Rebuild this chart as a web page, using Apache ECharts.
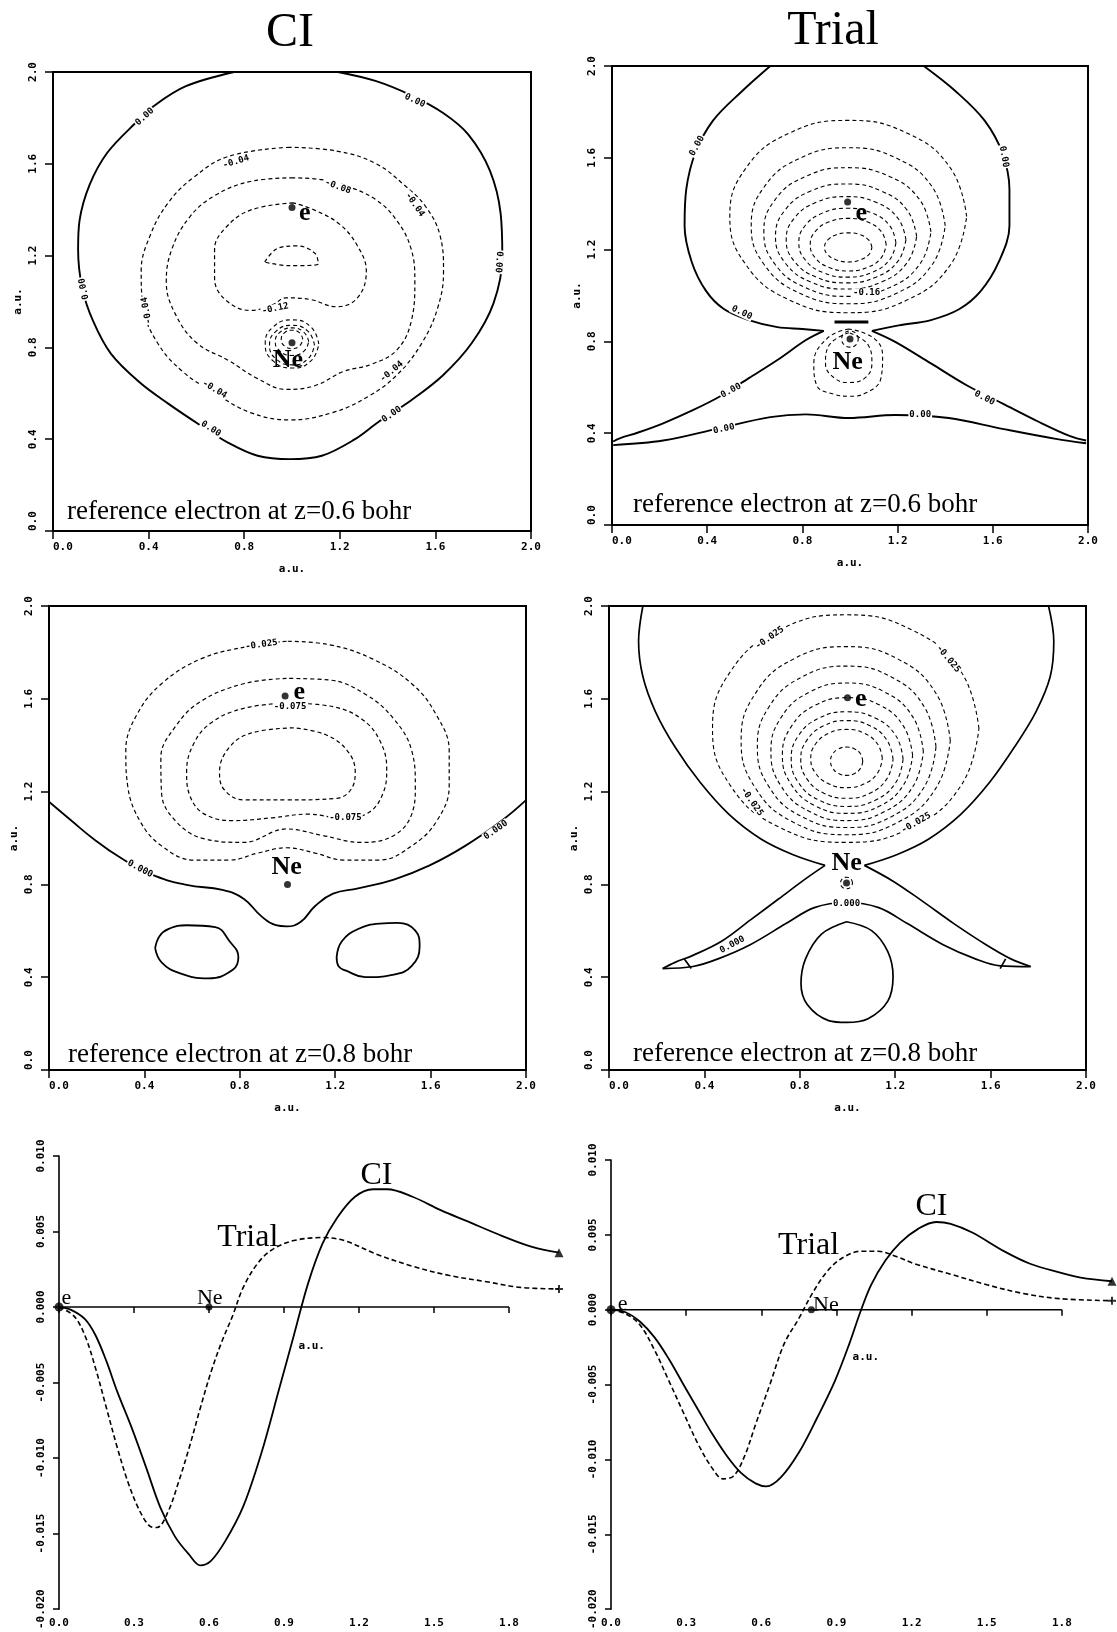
<!DOCTYPE html>
<html><head><meta charset="utf-8">
<script src="https://cdn.jsdelivr.net/npm/echarts@6/dist/echarts.min.js"></script>
<style>html,body{margin:0;padding:0;background:#fff}#c{width:1117px;height:1632px}</style>
</head><body><div id="c"></div>
<script>
// ---------- tick values ----------
const contourTicks = [0.0, 0.4, 0.8, 1.2, 1.6, 2.0];
const lineXTicks = [0.0, 0.3, 0.6, 0.9, 1.2, 1.5, 1.8];
const lineXMax = 2.0;
const lineYTicks = [-0.020, -0.015, -0.010, -0.005, 0.000, 0.005, 0.010];

// ---------- Panel 1 : CI, reference electron at z=0.6 ----------
const p1Zero = [[0.758,2.0],[0.556,1.938],[0.422,1.852],[0.347,1.78],[0.227,1.648],[0.153,1.508],[0.111,1.352],[0.105,1.227],[0.123,1.055],[0.168,0.914],[0.242,0.773],[0.362,0.648],[0.482,0.555],[0.616,0.461],[0.736,0.383],[0.856,0.328],[0.99,0.313],[1.125,0.328],[1.26,0.398],[1.364,0.477],[1.499,0.57],[1.633,0.68],[1.753,0.82],[1.843,0.992],[1.88,1.195],[1.873,1.383],[1.828,1.57],[1.738,1.727],[1.634,1.82],[1.499,1.898],[1.349,1.961],[1.192,2.0]];
const p1M04 = [[0.99,1.672],[0.736,1.633],[0.586,1.539],[0.482,1.43],[0.407,1.289],[0.369,1.133],[0.377,0.977],[0.437,0.82],[0.542,0.695],[0.676,0.602],[0.826,0.516],[0.99,0.484],[1.17,0.516],[1.319,0.586],[1.439,0.68],[1.544,0.82],[1.611,0.977],[1.634,1.133],[1.619,1.289],[1.559,1.414],[1.469,1.508],[1.349,1.602],[1.185,1.656],[0.99,1.672]];
const p1M08 = [[1.005,1.539],[0.826,1.523],[0.676,1.461],[0.571,1.367],[0.497,1.227],[0.474,1.086],[0.512,0.945],[0.601,0.82],[0.736,0.742],[0.856,0.664],[0.975,0.617],[1.095,0.633],[1.215,0.695],[1.334,0.727],[1.439,0.789],[1.499,0.914],[1.514,1.086],[1.499,1.227],[1.439,1.352],[1.349,1.445],[1.215,1.508],[1.125,1.531],[1.005,1.539]];
const p1M12 = [[1.005,1.43],[0.826,1.398],[0.721,1.32],[0.676,1.227],[0.676,1.102],[0.721,1.008],[0.826,0.961],[0.916,0.984],[0.975,1.016],[1.08,1.008],[1.185,0.977],[1.274,1.016],[1.311,1.133],[1.274,1.242],[1.2,1.336],[1.095,1.398],[1.005,1.43]];
const p1M16 = [[0.886,1.172],[0.945,1.234],[1.02,1.242],[1.095,1.211],[1.11,1.164],[0.99,1.156],[0.886,1.172]];
const p1NeA = [[1.112,0.815],[1.079,0.889],[1.0,0.92],[0.921,0.889],[0.888,0.815],[0.921,0.741],[1.0,0.71],[1.079,0.741],[1.112,0.815]];
const p1NeB = [[1.094,0.81],[1.066,0.871],[1.0,0.896],[0.934,0.871],[0.906,0.81],[0.934,0.749],[1.0,0.724],[1.066,0.749],[1.094,0.81]];
const p1NeC = [[1.07,0.825],[1.049,0.867],[1.0,0.885],[0.951,0.867],[0.93,0.825],[0.951,0.783],[1.0,0.765],[1.049,0.783],[1.07,0.825]];
const p1NeD = [[1.045,0.835],[1.032,0.863],[1.0,0.875],[0.968,0.863],[0.955,0.835],[0.968,0.807],[1.0,0.795],[1.032,0.807],[1.045,0.835]];
const p1Labels = [[0.384,1.805,'0.00',42],[1.514,1.875,'0.00',-25],[1.865,1.172,'0.00',-95],[0.13,1.055,'0.00',102],[0.661,0.445,'0.00',-32],[1.417,0.508,'0.00',34],[0.766,1.609,'-0.04',17],[1.514,1.422,'-0.04',-55],[0.392,0.961,'-0.04',100],[0.676,0.617,'-0.04',-31],[1.417,0.695,'-0.04',40],[1.192,1.5,'-0.08',-20],[0.93,0.969,'-0.12',12]];
const p1Dots = [[1.0,1.41],[1.0,0.82]];
const p1Tags = [[1.053,1.383,'e'],[0.983,0.742,'Ne']];

// ---------- Panel 2 : Trial, z=0.6 ----------
const p2ZeroLeft = [[0.665,2.0],[0.545,1.889],[0.425,1.763],[0.35,1.621],[0.312,1.462],[0.305,1.304],[0.335,1.146],[0.395,1.02],[0.47,0.941],[0.575,0.893],[0.695,0.862],[0.8,0.854],[0.89,0.846]];
const p2ArmLeft = [[0.89,0.846],[0.815,0.806],[0.695,0.719],[0.575,0.64],[0.455,0.561],[0.335,0.498],[0.215,0.443],[0.11,0.403],[0.035,0.379],[0.005,0.364]];
const p2ZeroRight = [[1.31,2.0],[1.445,1.889],[1.565,1.763],[1.64,1.621],[1.67,1.462],[1.67,1.304],[1.625,1.146],[1.55,1.02],[1.46,0.941],[1.34,0.893],[1.205,0.87],[1.092,0.846]];
const p2ArmRight = [[1.092,0.846],[1.19,0.798],[1.34,0.704],[1.49,0.609],[1.64,0.53],[1.79,0.451],[1.925,0.387],[1.992,0.368]];
const p2ZeroBottom = [[0.005,0.348],[0.215,0.368],[0.44,0.419],[0.665,0.47],[0.815,0.482],[0.995,0.466],[1.19,0.479],[1.415,0.466],[1.64,0.419],[1.865,0.375],[1.992,0.356]];
const p2Bar = [[0.935,0.885],[1.077,0.885]];
const p2R1 = [[1.490,1.344],[1.423,1.554],[1.241,1.707],[0.993,1.763],[0.744,1.707],[0.562,1.554],[0.495,1.344],[0.562,1.135],[0.744,0.981],[0.993,0.925],[1.241,0.981],[1.423,1.135],[1.490,1.344]];
const p2R2 = [[1.400,1.304],[1.345,1.474],[1.196,1.598],[0.993,1.644],[0.789,1.598],[0.640,1.474],[0.585,1.304],[0.640,1.134],[0.789,1.010],[0.993,0.964],[1.196,1.010],[1.345,1.134],[1.400,1.304]];
const p2R3 = [[1.340,1.277],[1.293,1.417],[1.165,1.519],[0.989,1.557],[0.814,1.519],[0.685,1.417],[0.638,1.277],[0.685,1.136],[0.814,1.034],[0.989,0.996],[1.165,1.034],[1.293,1.136],[1.340,1.277]];
const p2R4 = [[1.280,1.257],[1.240,1.372],[1.132,1.455],[0.984,1.486],[0.835,1.455],[0.727,1.372],[0.687,1.257],[0.727,1.143],[0.835,1.059],[0.984,1.028],[1.132,1.059],[1.240,1.143],[1.280,1.257]];
const p2R5 = [[1.235,1.243],[1.201,1.337],[1.109,1.406],[0.984,1.431],[0.858,1.406],[0.766,1.337],[0.732,1.243],[0.766,1.149],[0.858,1.080],[0.984,1.055],[1.109,1.080],[1.201,1.149],[1.235,1.243]];
const p2R6 = [[1.193,1.230],[1.166,1.305],[1.091,1.360],[0.989,1.380],[0.887,1.360],[0.812,1.305],[0.785,1.230],[0.812,1.155],[0.887,1.100],[0.989,1.080],[1.091,1.100],[1.166,1.155],[1.193,1.230]];
const p2R7 = [[1.152,1.222],[1.131,1.279],[1.072,1.321],[0.993,1.336],[0.913,1.321],[0.854,1.279],[0.833,1.222],[0.854,1.164],[0.913,1.122],[0.993,1.107],[1.072,1.122],[1.131,1.164],[1.152,1.222]];
const p2R8 = [[1.092,1.210],[1.079,1.241],[1.042,1.265],[0.993,1.273],[0.943,1.265],[0.906,1.241],[0.893,1.210],[0.906,1.178],[0.943,1.155],[0.993,1.146],[1.042,1.155],[1.079,1.178],[1.092,1.210]];
const p2NeOuter = [[0.995,0.854],[0.905,0.814],[0.848,0.704],[0.86,0.609],[0.935,0.569],[0.995,0.561],[1.07,0.577],[1.13,0.64],[1.137,0.735],[1.1,0.814],[0.995,0.854]];
const p2NeInner = [[0.995,0.838],[0.912,0.783],[0.897,0.704],[0.935,0.64],[0.995,0.621],[1.062,0.64],[1.092,0.704],[1.077,0.783],[0.995,0.838]];
const p2NeCore = [[1.035,0.81],[1.025,0.835],[1.0,0.845],[0.975,0.835],[0.965,0.81],[0.975,0.785],[1.0,0.775],[1.025,0.785],[1.035,0.81]];
const p2Labels = [[0.357,1.652,'0.00',61],[1.647,1.605,'0.00',-80],[0.545,0.925,'0.00',-25],[0.5,0.585,'0.00',28],[1.565,0.553,'0.00',-27],[0.47,0.419,'0.00',12],[1.295,0.482,'0.00',0],[1.07,1.012,'-0.16',0]];
const p2Dots = [[0.99,1.407],[1.0,0.81]];
const p2Tags = [[1.047,1.36,'e'],[0.99,0.711,'Ne']];

// ---------- Panel 3 : CI, z=0.8 ----------
const p3Zero = [[0,1.156],[0.097,1.072],[0.187,0.996],[0.292,0.92],[0.427,0.844],[0.577,0.798],[0.727,0.776],[0.816,0.738],[0.891,0.662],[0.951,0.624],[0.996,0.619],[1.056,0.639],[1.116,0.707],[1.191,0.76],[1.296,0.783],[1.446,0.821],[1.596,0.882],[1.745,0.966],[1.895,1.072],[2.0,1.163]];
const p3EllL = [[0.445,0.525],[0.464,0.578],[0.502,0.608],[0.577,0.624],[0.697,0.616],[0.757,0.555],[0.794,0.487],[0.772,0.433],[0.667,0.395],[0.547,0.418],[0.472,0.464],[0.445,0.525]];
const p3EllR = [[1.206,0.487],[1.228,0.555],[1.296,0.608],[1.386,0.631],[1.461,0.634],[1.536,0.601],[1.554,0.532],[1.521,0.449],[1.446,0.411],[1.326,0.400],[1.251,0.426],[1.213,0.449],[1.206,0.487]];
const p3M025 = [[0.996,1.848],[0.831,1.825],[0.637,1.772],[0.472,1.665],[0.367,1.529],[0.322,1.376],[0.33,1.224],[0.382,1.072],[0.472,0.966],[0.607,0.905],[0.757,0.905],[0.876,0.935],[0.996,0.958],[1.116,0.935],[1.236,0.905],[1.386,0.905],[1.521,0.966],[1.625,1.072],[1.678,1.224],[1.678,1.376],[1.625,1.529],[1.521,1.665],[1.356,1.772],[1.176,1.833],[0.996,1.848]];
const p3M050 = [[0.996,1.688],[0.816,1.665],[0.637,1.589],[0.532,1.483],[0.469,1.346],[0.472,1.194],[0.532,1.072],[0.652,0.996],[0.816,0.981],[0.996,1.039],[1.146,1.011],[1.311,0.981],[1.446,1.011],[1.521,1.103],[1.536,1.224],[1.521,1.376],[1.446,1.513],[1.326,1.62],[1.176,1.681],[0.996,1.688]];
const p3M075 = [[0.996,1.582],[0.816,1.559],[0.682,1.498],[0.607,1.407],[0.577,1.285],[0.592,1.179],[0.652,1.103],[0.772,1.075],[0.936,1.087],[1.086,1.103],[1.236,1.084],[1.341,1.11],[1.401,1.194],[1.416,1.3],[1.386,1.422],[1.311,1.513],[1.191,1.566],[0.996,1.582]];
const p3M100 = [[1.026,1.475],[0.846,1.452],[0.757,1.392],[0.715,1.285],[0.734,1.209],[0.816,1.164],[0.996,1.164],[1.206,1.171],[1.266,1.209],[1.284,1.285],[1.251,1.376],[1.161,1.445],[1.026,1.475]];
const p3Labels = [[0.891,1.833,'-0.025',8],[1.011,1.567,'-0.075',0],[1.243,1.087,'-0.075',0],[0.382,0.867,'0.000',-28],[1.873,1.034,'0.000',35]];
const p3Dots = [[0.99,1.612],[1.0,0.80]];
const p3Tags = [[1.049,1.627,'e'],[0.996,0.875,'Ne']];

// ---------- Panel 4 : Trial, z=0.8 ----------
const p4ZeroUpL = [[0.142,2.0],[0.124,1.848],[0.142,1.696],[0.195,1.544],[0.277,1.392],[0.382,1.24],[0.502,1.103],[0.637,0.996],[0.772,0.928],[0.906,0.882]];
const p4ArmLOut = [[0.906,0.882],[0.831,0.829],[0.712,0.738],[0.592,0.646],[0.472,0.555],[0.352,0.494],[0.277,0.464],[0.225,0.437]];
const p4Inner = [[0.225,0.437],[0.352,0.446],[0.457,0.479],[0.592,0.54],[0.742,0.631],[0.861,0.7],[0.996,0.722],[1.131,0.7],[1.251,0.631],[1.401,0.54],[1.536,0.479],[1.641,0.449],[1.768,0.446]];
const p4ArmROut = [[1.768,0.446],[1.685,0.479],[1.581,0.54],[1.446,0.631],[1.311,0.73],[1.191,0.814],[1.071,0.882]];
const p4ZeroUpR = [[1.071,0.882],[1.206,0.928],[1.341,0.996],[1.476,1.103],[1.596,1.24],[1.7,1.392],[1.79,1.544],[1.85,1.696],[1.865,1.848],[1.843,2.0]];
const p4TickL = [[0.315,0.48],[0.345,0.438]];
const p4TickR = [[1.663,0.479],[1.64,0.437]];
const p4Egg = [[0.996,0.639],[0.891,0.586],[0.824,0.479],[0.805,0.373],[0.832,0.281],[0.921,0.213],[0.996,0.205],[1.086,0.221],[1.169,0.297],[1.191,0.403],[1.169,0.51],[1.101,0.601],[0.996,0.639]];
const p4R1 = [[1.551,1.472],[1.476,1.717],[1.272,1.896],[0.993,1.962],[0.713,1.896],[0.509,1.717],[0.434,1.472],[0.509,1.226],[0.713,1.047],[0.993,0.981],[1.272,1.047],[1.476,1.226],[1.551,1.472]];
const p4R2 = [[1.431,1.420],[1.372,1.622],[1.212,1.771],[0.993,1.825],[0.773,1.771],[0.613,1.622],[0.554,1.420],[0.613,1.217],[0.773,1.068],[0.993,1.014],[1.212,1.068],[1.372,1.217],[1.431,1.420]];
const p4R3 = [[1.371,1.393],[1.321,1.567],[1.184,1.694],[0.997,1.741],[0.809,1.694],[0.672,1.567],[0.622,1.393],[0.672,1.219],[0.809,1.092],[0.997,1.045],[1.184,1.092],[1.321,1.219],[1.371,1.393]];
const p4R4 = [[1.318,1.372],[1.275,1.520],[1.158,1.628],[0.999,1.668],[0.839,1.628],[0.722,1.520],[0.679,1.372],[0.722,1.223],[0.839,1.115],[0.999,1.075],[1.158,1.115],[1.275,1.223],[1.318,1.372]];
const p4R5 = [[1.273,1.356],[1.236,1.480],[1.137,1.572],[1.0,1.605],[0.864,1.572],[0.764,1.480],[0.727,1.356],[0.764,1.231],[0.864,1.139],[1.0,1.106],[1.137,1.139],[1.236,1.231],[1.273,1.356]];
const p4R6 = [[1.233,1.340],[1.202,1.442],[1.116,1.517],[0.999,1.544],[0.881,1.517],[0.795,1.442],[0.764,1.340],[0.795,1.238],[0.881,1.163],[0.999,1.136],[1.116,1.163],[1.202,1.238],[1.233,1.340]];
const p4R7 = [[1.191,1.339],[1.165,1.422],[1.094,1.484],[0.998,1.506],[0.901,1.484],[0.830,1.422],[0.804,1.339],[0.830,1.255],[0.901,1.193],[0.998,1.171],[1.094,1.193],[1.165,1.255],[1.191,1.339]];
const p4R8 = [[1.146,1.343],[1.126,1.405],[1.071,1.451],[0.996,1.468],[0.921,1.451],[0.866,1.405],[0.846,1.343],[0.866,1.280],[0.921,1.234],[0.996,1.217],[1.071,1.234],[1.126,1.280],[1.146,1.343]];
const p4R9 = [[1.064,1.331],[1.055,1.362],[1.030,1.384],[0.997,1.392],[0.963,1.384],[0.938,1.362],[0.929,1.331],[0.938,1.301],[0.963,1.278],[0.997,1.270],[1.030,1.278],[1.055,1.301],[1.064,1.331]];
const p4NeRing = [[1.021,0.806],[1.014,0.824],[0.996,0.831],[0.978,0.824],[0.971,0.806],[0.978,0.788],[0.996,0.781],[1.014,0.788],[1.021,0.806]];
const p4Labels = [[0.674,1.863,'-0.025',35],[1.423,1.772,'-0.025',-50],[0.599,1.156,'-0.025',-55],[1.288,1.065,'-0.025',30],[0.996,0.719,'0.000',0],[0.517,0.54,'0.000',28]];
const p4Dots = [[1.0,1.605],[0.996,0.806]];
const p4Tags = [[1.056,1.597,'e'],[0.996,0.893,'Ne']];

// ---------- Panel 5 : profile along the axis, z=0.6 ----------
const ci5 = [[0,0],[0.046,-0.00017],[0.104,-0.0008],[0.147,-0.0019],[0.19,-0.0036],[0.233,-0.0056],[0.291,-0.008],[0.348,-0.0106],[0.406,-0.0133],[0.464,-0.0152],[0.521,-0.0164],[0.565,-0.0171],[0.608,-0.0168],[0.665,-0.0155],[0.737,-0.0132],[0.809,-0.0097],[0.881,-0.0054],[0.939,-0.0019],[0.997,0.0016],[1.054,0.0042],[1.112,0.0059],[1.184,0.0073],[1.256,0.0078],[1.313,0.0078],[1.414,0.0073],[1.529,0.0064],[1.63,0.0057],[1.774,0.0047],[1.889,0.004],[2.0,0.0036]];
const trial5 = [[0,0],[0.06,-0.0006],[0.104,-0.0019],[0.147,-0.0041],[0.19,-0.0067],[0.233,-0.0093],[0.276,-0.0116],[0.32,-0.0134],[0.363,-0.0145],[0.392,-0.0146],[0.435,-0.0136],[0.478,-0.0116],[0.521,-0.0093],[0.565,-0.0067],[0.608,-0.0043],[0.651,-0.0023],[0.694,-0.0006],[0.737,0.0013],[0.795,0.0029],[0.853,0.0038],[0.939,0.0044],[1.054,0.0046],[1.141,0.0044],[1.27,0.0035],[1.414,0.0027],[1.558,0.0021],[1.702,0.0017],[1.846,0.0013],[2.0,0.0012]];
const p5Points = [[0,0],[0.6,0]];
const p5Tags = [[0.03,0.0006,'e'],[0.603,0.0006,'Ne']];
const p5Names = [[1.27,0.0087,'CI'],[0.755,0.0046,'Trial']];
const p5Unit = [[1.011,-0.0026,'a.u.']];

// ---------- Panel 6 : profile along the axis, z=0.8 ----------
const ci6 = [[0,0],[0.058,-0.00017],[0.115,-0.00079],[0.173,-0.00183],[0.231,-0.00329],[0.288,-0.00496],[0.346,-0.00663],[0.404,-0.00829],[0.462,-0.00975],[0.519,-0.0109],[0.577,-0.0116],[0.62,-0.0118],[0.678,-0.0112],[0.75,-0.00954],[0.822,-0.00725],[0.894,-0.00475],[0.952,-0.00225],[0.995,-0.00017],[1.039,0.00167],[1.096,0.0033],[1.154,0.00447],[1.226,0.0054],[1.298,0.00586],[1.356,0.00574],[1.442,0.00516],[1.572,0.00388],[1.673,0.00307],[1.789,0.00249],[1.875,0.00214],[2.0,0.0019]];
const trial6 = [[0,0],[0.058,-0.00027],[0.115,-0.001],[0.173,-0.00267],[0.231,-0.00475],[0.288,-0.00683],[0.346,-0.00892],[0.404,-0.01058],[0.447,-0.0113],[0.49,-0.0111],[0.534,-0.00975],[0.577,-0.00767],[0.635,-0.00496],[0.692,-0.00225],[0.75,-0.00058],[0.808,0.00121],[0.865,0.0026],[0.923,0.00345],[0.995,0.0039],[1.067,0.0039],[1.139,0.00355],[1.212,0.00307],[1.356,0.00237],[1.5,0.00167],[1.644,0.00109],[1.789,0.00074],[2.0,0.0006]];
const p6Points = [[0,0],[0.8,0]];
const p6Tags = [[0.046,0.0004,'e'],[0.858,0.0003,'Ne']];
const p6Names = [[1.279,0.0069,'CI'],[0.789,0.0043,'Trial']];
const p6Unit = [[1.017,-0.0032,'a.u.']];

// ---------- styling / builders ----------
const SERIF = '"Liberation Serif","Times New Roman",serif';
const MONO = '"DejaVu Sans Mono","Liberation Mono",monospace';
const fmt = d => v => (Math.abs(v) < 1e-9 ? 0 : v).toFixed(d);

function cLine(gi, data, dashed, width, smooth) {
  return {type:'line', xAxisIndex:gi, yAxisIndex:gi, data:data, symbol:'none', showSymbol:false,
    smooth: smooth === undefined ? 0.35 : smooth, silent:true, z:2,
    lineStyle:{color:'#000', width: width || (dashed ? 1.2 : 1.8), type: dashed ? [4,3] : 'solid'}};
}
// text placed at data coordinates through the axes (custom series)
function textSeries(gi, arr, font, withBg) {
  return {type:'custom', xAxisIndex:gi, yAxisIndex:gi, silent:true, z:11, clip:false,
    encode:{x:0, y:1},
    data: arr.map(a => [a[0], a[1]]),
    renderItem: function (params, api) {
      const a = arr[params.dataIndex];
      const p = api.coord([api.value(0), api.value(1)]);
      const st = {text:a[2], font:font, fill:'#000', align:'center', verticalAlign:'middle'};
      if (withBg) { st.backgroundColor = '#fff'; st.padding = [0, 1]; }
      return {type:'text', x:p[0], y:p[1], rotation: (a[3] || 0) * Math.PI / 180, style:st};
    }};
}
function dots(gi, arr, size) {
  return {type:'scatter', xAxisIndex:gi, yAxisIndex:gi, symbol:'circle', symbolSize:size, silent:true, z:9,
    itemStyle:{color:'#000'}, data:arr};
}
const levelFont = 'bold 9px ' + MONO;
const tagFont = 'bold 26px ' + SERIF;

const grids = [
  {left:53, top:72, width:478, height:459},
  {left:612, top:66, width:476, height:459},
  {left:49, top:606, width:477, height:464},
  {left:609, top:606, width:477, height:464},
  {left:59, top:1156, width:500, height:465},
  {left:611, top:1160, width:501, height:464}
].map((g, i) => Object.assign(g, i < 4 ? {show:true, borderColor:'#000', borderWidth:2} : {show:false}));

const tickFont = {fontFamily:MONO, fontSize:11, fontWeight:'bold', color:'#000'};
const nameFont = {fontFamily:MONO, fontSize:11, fontWeight:'bold', color:'#000'};
const xAxes = [], yAxes = [];
for (let i = 0; i < 4; i++) {
  const base = {gridIndex:i, type:'value', min:contourTicks[0], max:contourTicks[contourTicks.length-1],
    interval:contourTicks[1]-contourTicks[0], axisLine:{show:false}, splitLine:{show:false},
    axisTick:{show:true, length:8, lineStyle:{color:'#000', width:1.5}}};
  xAxes.push(Object.assign({}, base, {
    axisLabel:Object.assign({formatter:fmt(1), margin:11, alignMinLabel:'left'}, tickFont),
    name:'a.u.', nameLocation:'middle', nameGap:33, nameTextStyle:nameFont}));
  yAxes.push(Object.assign({}, base, {
    axisLabel:Object.assign({formatter:fmt(1), margin:14, rotate:90, alignMinLabel:'left'}, tickFont),
    name:'a.u.', nameLocation:'middle', nameGap:29, nameRotate:90, nameTextStyle:nameFont}));
}
for (let i = 4; i < 6; i++) {
  xAxes.push({gridIndex:i, type:'value', min:lineXTicks[0], max:lineXMax,
    axisLine:{show:false, onZero:true},
    axisTick:{show:true, length:6, customValues:lineXTicks, lineStyle:{color:'#000', width:1.5}},
    axisLabel:Object.assign({formatter:fmt(1), margin:9, customValues:lineXTicks}, tickFont), splitLine:{show:false}});
  yAxes.push({gridIndex:i, type:'value', min:lineYTicks[0], max:lineYTicks[lineYTicks.length-1],
    interval:0.005,
    axisLine:{show:true, onZero:false, lineStyle:{color:'#000', width:1.6}},
    axisTick:{show:true, length:6, lineStyle:{color:'#000', width:1.5}},
    axisLabel:Object.assign({formatter:fmt(3), margin:12, rotate:90}, tickFont), splitLine:{show:false}});
}

const series = [];
// panel 1
series.push(cLine(0, p1Zero, false, 1.9, 0.35));
[p1M04, p1M08, p1M12, p1M16].forEach(d => series.push(cLine(0, d, true, 1.2, 0.4)));
[p1NeA, p1NeB, p1NeC, p1NeD].forEach(d => series.push(cLine(0, d, true, 1.1, 0.5)));
series.push(textSeries(0, p1Labels, levelFont, true));
series.push(dots(0, p1Dots, 7));
series.push(textSeries(0, p1Tags, tagFont, false));
// panel 2
[p2ZeroLeft, p2ArmLeft, p2ZeroRight, p2ArmRight, p2ZeroBottom].forEach(d => series.push(cLine(1, d, false, 1.9, 0.35)));
series.push(cLine(1, p2Bar, false, 3, 0));
[p2R1, p2R2, p2R3, p2R4, p2R5, p2R6, p2R7, p2R8].forEach(d => series.push(cLine(1, d, true, 1.1, 0.45)));
[p2NeOuter, p2NeInner, p2NeCore].forEach(d => series.push(cLine(1, d, true, 1.1, 0.45)));
series.push(textSeries(1, p2Labels, levelFont, true));
series.push(dots(1, p2Dots, 7));
series.push(textSeries(1, p2Tags, tagFont, false));
// panel 3
[p3Zero, p3EllL, p3EllR].forEach(d => series.push(cLine(2, d, false, 1.8, 0.45)));
[p3M025, p3M050, p3M075, p3M100].forEach(d => series.push(cLine(2, d, true, 1.2, 0.4)));
series.push(textSeries(2, p3Labels, levelFont, true));
series.push(dots(2, p3Dots, 7));
series.push(textSeries(2, p3Tags, tagFont, false));
// panel 4
[p4ZeroUpL, p4ArmLOut, p4Inner, p4ArmROut, p4ZeroUpR, p4Egg].forEach(d => series.push(cLine(3, d, false, 1.7, 0.35)));
[p4TickL, p4TickR].forEach(d => series.push(cLine(3, d, false, 1.7, 0)));
[p4R1, p4R2, p4R3, p4R4, p4R5, p4R6, p4R7, p4R8, p4R9, p4NeRing].forEach(d => series.push(cLine(3, d, true, 1.1, 0.45)));
series.push(textSeries(3, p4Labels, levelFont, true));
series.push(dots(3, p4Dots, 7));
series.push(textSeries(3, p4Tags, tagFont, false));
// panels 5 and 6
const plusPath = 'path://M3,0H5V3H8V5H5V8H3V5H0V3H3Z';
[[4, ci5, trial5, p5Points, p5Tags, p5Names, p5Unit], [5, ci6, trial6, p6Points, p6Tags, p6Names, p6Unit]].forEach(p => {
  const gi = p[0];
  series.push({type:'line', xAxisIndex:gi, yAxisIndex:gi, data:[[lineXTicks[0],0],[lineXTicks[lineXTicks.length-1],0]],
    symbol:'none', silent:true, z:1, lineStyle:{color:'#000', width:1.6}});
  series.push({type:'line', xAxisIndex:gi, yAxisIndex:gi, data:p[1], symbol:'none', showSymbol:false, smooth:0.35, silent:true, z:3,
    lineStyle:{color:'#000', width:1.8}});
  series.push({type:'line', xAxisIndex:gi, yAxisIndex:gi, data:p[2], symbol:'none', showSymbol:false, smooth:0.35, silent:true, z:3,
    lineStyle:{color:'#000', width:1.6, type:[5,3]}});
  series.push({type:'scatter', xAxisIndex:gi, yAxisIndex:gi, symbol:'triangle', symbolSize:9, clip:false, silent:true, z:5,
    itemStyle:{color:'#000'}, data:[p[1][p[1].length-1]]});
  series.push({type:'scatter', xAxisIndex:gi, yAxisIndex:gi, symbol:plusPath, symbolSize:8, clip:false, silent:true, z:5,
    itemStyle:{color:'#000'}, data:[p[2][p[2].length-1]]});
  series.push({type:'scatter', xAxisIndex:gi, yAxisIndex:gi, symbol:'circle', symbolSize:9, clip:false, silent:true, z:6,
    itemStyle:{color:'#000'}, data:[p[3][0]]});
  series.push({type:'scatter', xAxisIndex:gi, yAxisIndex:gi, symbol:'circle', symbolSize:7, clip:false, silent:true, z:6,
    itemStyle:{color:'#000'}, data:[p[3][1]]});
  series.push(textSeries(gi, p[4], '22px ' + SERIF, false));
  series.push(textSeries(gi, p[5], '32px ' + SERIF, false));
  series.push(textSeries(gi, p[6], 'bold 11px ' + MONO, false));
});

function gText(x, y, text, size, align) {
  return {type:'text', x:x, y:y, silent:true, z:20,
    style:{text:text, font: size + 'px ' + SERIF, fill:'#000', align: align || 'left', verticalAlign:'middle',
      textAlign: align || 'left', textVerticalAlign:'middle'}};
}
const graphics = [
  gText(290, 33, 'CI', 48, 'center'),
  gText(833, 31, 'Trial', 48, 'center'),
  gText(67, 512, 'reference electron at z=0.6 bohr', 27),
  gText(633, 505, 'reference electron at z=0.6 bohr', 27),
  gText(68, 1055, 'reference electron at z=0.8 bohr', 27),
  gText(633, 1054, 'reference electron at z=0.8 bohr', 27)
];

const chart = echarts.init(document.getElementById('c'), null, {renderer:'canvas'});
chart.setOption({
  animation:false,
  backgroundColor:'#fff',
  grid:grids, xAxis:xAxes, yAxis:yAxes, series:series, graphic:graphics
});
</script></body></html>
